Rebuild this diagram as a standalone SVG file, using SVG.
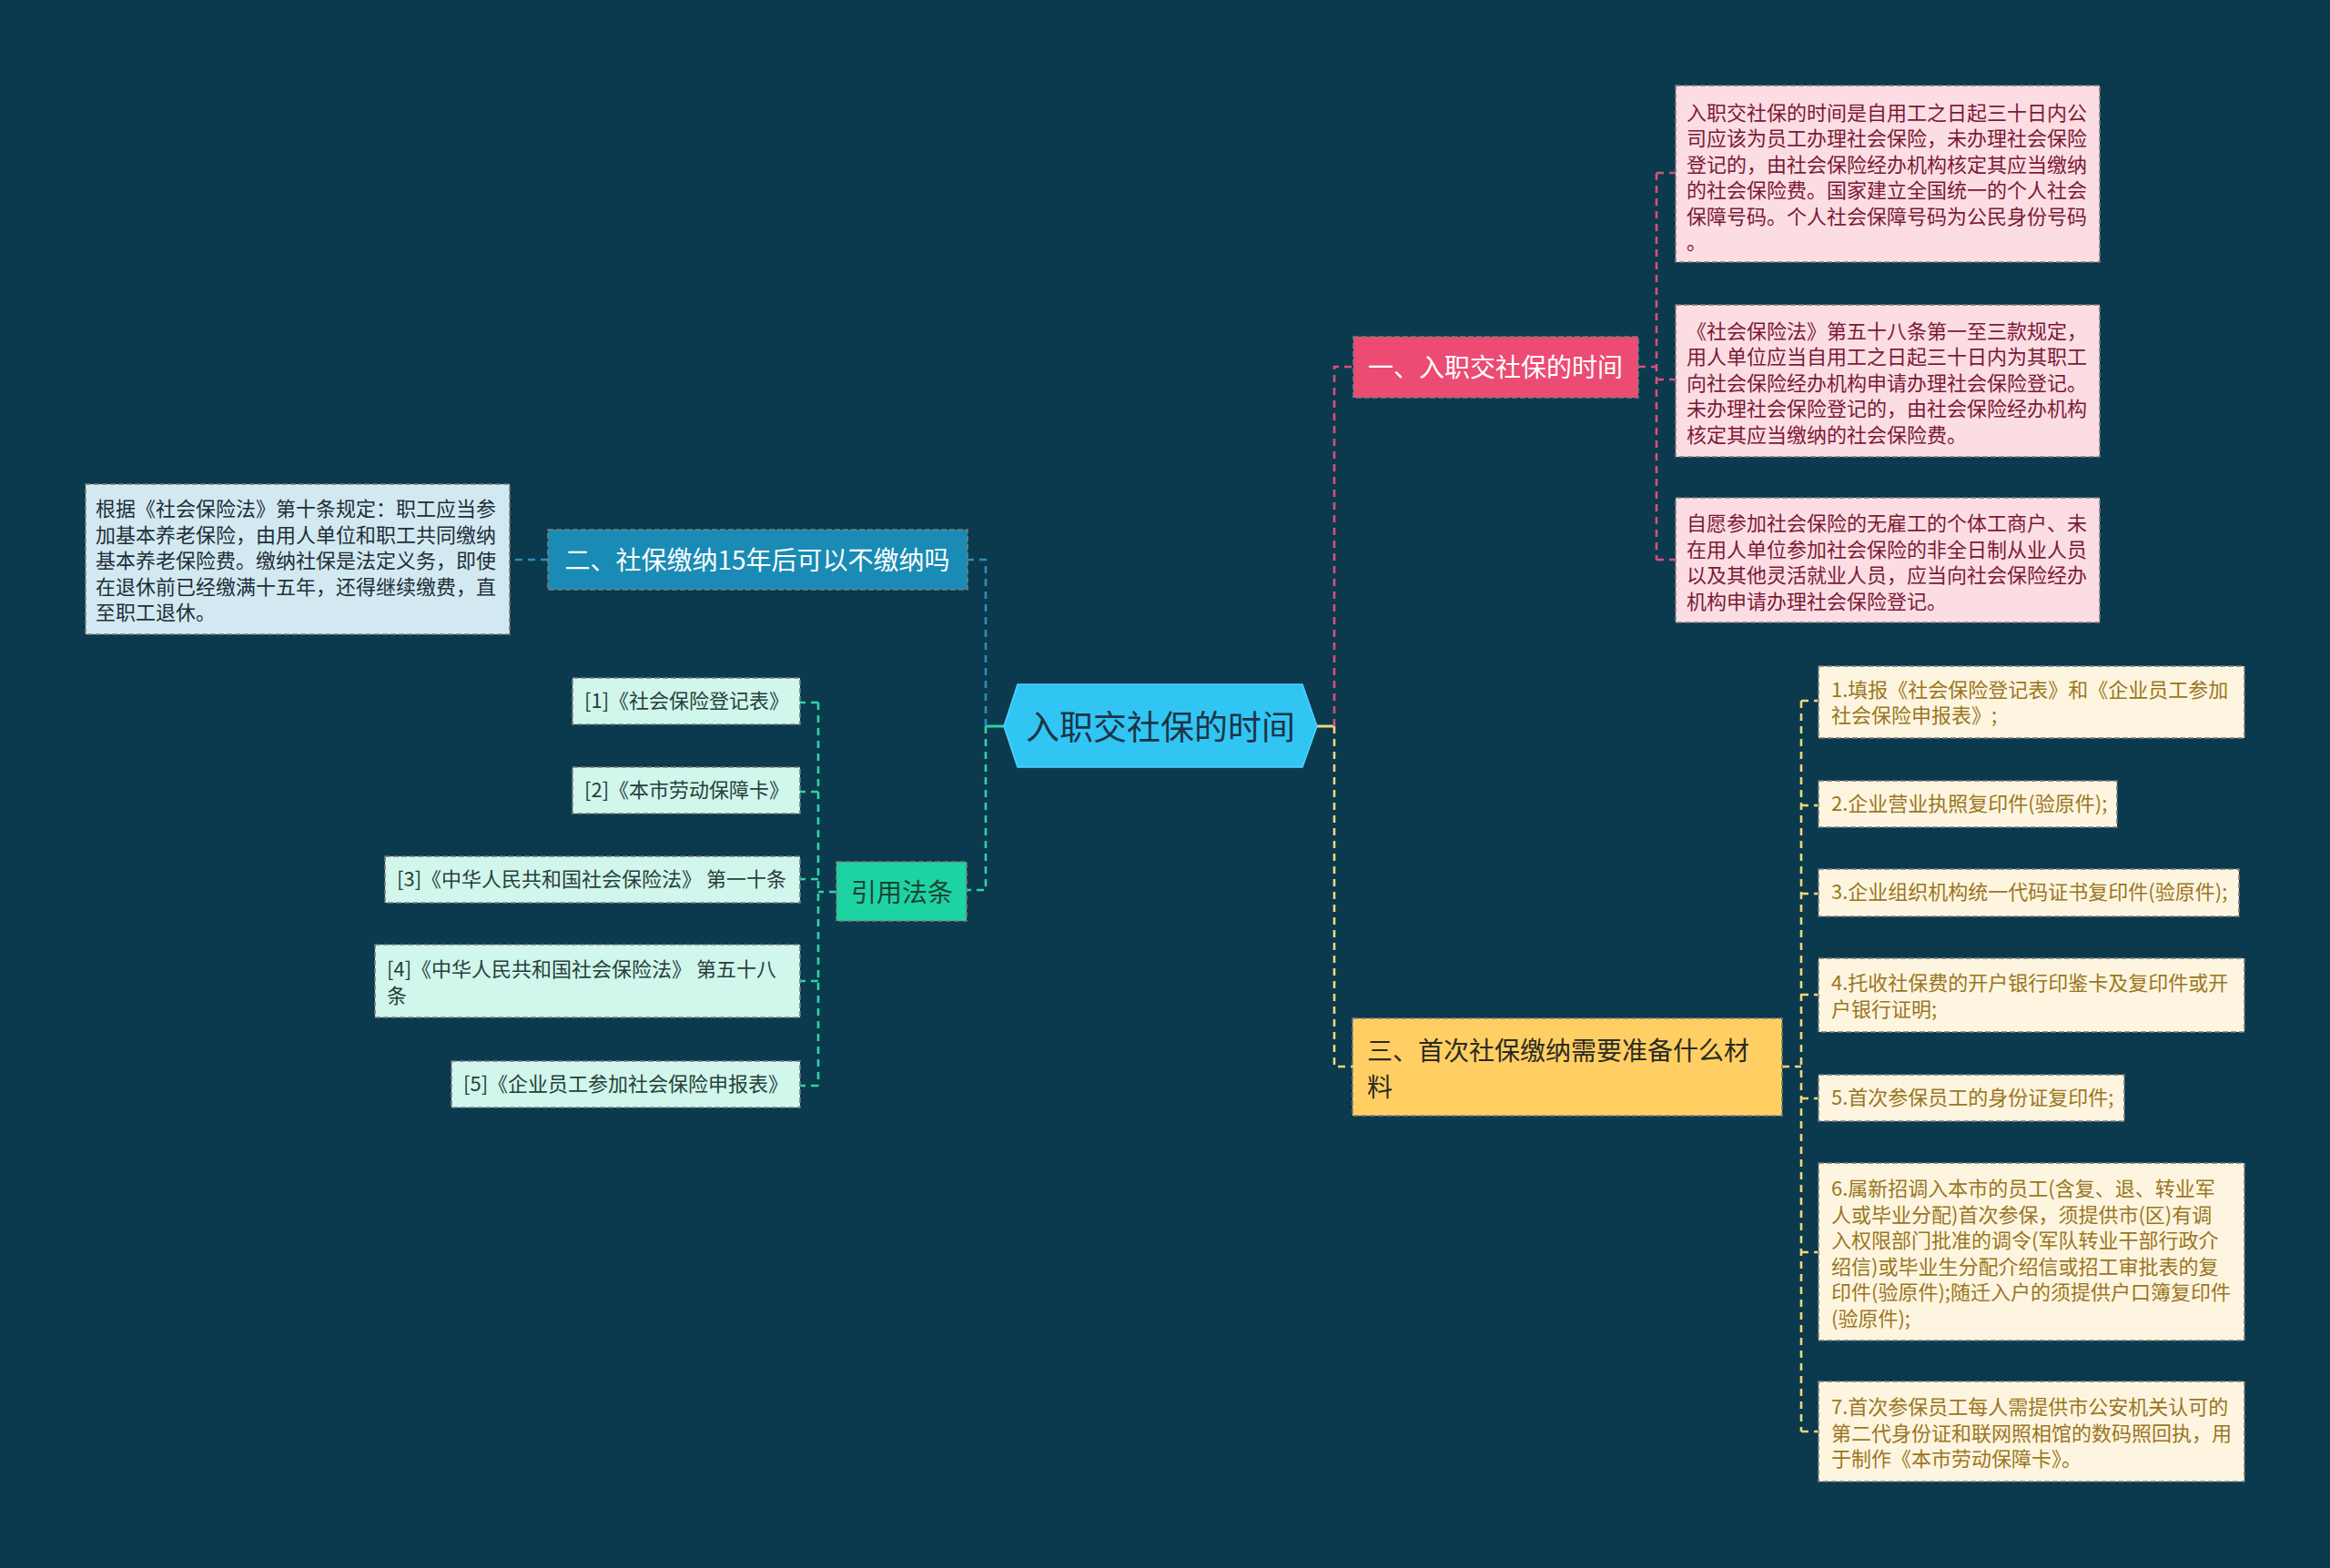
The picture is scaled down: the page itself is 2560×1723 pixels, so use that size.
<svg xmlns="http://www.w3.org/2000/svg" width="2560" height="1723" viewBox="0 0 2560 1723">
<style>
text{font-family:"Noto Sans CJK SC","Microsoft YaHei",sans-serif;}
.c{fill:none;stroke-width:2.6;stroke-dasharray:8 6;}
.s{fill:none;stroke-width:3;}
.pk{stroke:#d9507a;} .bl{stroke:#2a8fb8;} .gr{stroke:#2fd3a5;} .yl{stroke:#f4d777;}
.bd{stroke:#7c7c7c;stroke-width:1.6;stroke-dasharray:6 3;}
.t22{font-size:22px;dominant-baseline:central;}
.t28{font-size:28px;dominant-baseline:central;}
.lp{fill:#7b1a35;} .lb{fill:#1e2f3a;} .lg{fill:#27403a;} .ly{fill:#9b7523;}
</style>
<rect width="2560" height="1723" fill="#0b3a4e"/>
<g id="connectors">
  <path class="s yl" d="M1447 798H1466"/>
  <path class="s gr" d="M1103 798H1083"/>
  <path class="c pk" d="M1466 798V403H1487"/>
  <path class="c pk" d="M1800 403H1820M1820 190V615M1820 190H1841M1820 417H1841M1820 615H1841"/>
  <path class="c yl" d="M1466 798V1172H1486"/>
  <path class="c yl" d="M1958 1172H1979M1979 770V1573M1979 770H1998M1979 885H1998M1979 982H1998M1979 1093H1998M1979 1207H1998M1979 1376H1998M1979 1573H1998"/>
  <path class="c bl" d="M1083 798V615H1063M602 615H560"/>
  <path class="c gr" d="M1083 798V978H1062"/>
  <path class="c gr" d="M919 980H899M899 772V1193M899 772H879M899 870H879M899 966H879M899 1078H879M899 1193H879"/>
</g>
<g id="root">
  <polygon points="1103,798 1118,752 1431,752 1447,798 1431,843 1118,843" fill="#31c5f4" stroke="#4fd3ff" stroke-width="1.5"/>
  <text x="1275" y="797" font-size="37" dominant-baseline="central" text-anchor="middle" fill="#1c3445">入职交社保的时间</text>
</g>
<g id="n1">
  <rect x="1487" y="370" width="313" height="67" fill="#ec4b73" class="bd"/>
  <text x="1643" y="402" class="t28" text-anchor="middle" fill="#ffffff">一、入职交社保的时间</text>
</g>
<g id="n1a">
  <rect x="1841" y="94" width="466" height="194" fill="#fcdde4" class="bd"/>
  <text class="t22 lp"><tspan x="1853" y="121.5">入职交社保的时间是自用工之日起三十日内公</tspan><tspan x="1853" y="150">司应该为员工办理社会保险，未办理社会保险</tspan><tspan x="1853" y="178.5">登记的，由社会保险经办机构核定其应当缴纳</tspan><tspan x="1853" y="207">的社会保险费。国家建立全国统一的个人社会</tspan><tspan x="1853" y="235.5">保障号码。个人社会保障号码为公民身份号码</tspan><tspan x="1853" y="264">。</tspan></text>
</g>
<g id="n1b">
  <rect x="1841" y="335" width="466" height="167" fill="#fcdde4" class="bd"/>
  <text class="t22 lp"><tspan x="1853" y="361.5">《社会保险法》第五十八条第一至三款规定，</tspan><tspan x="1853" y="390">用人单位应当自用工之日起三十日内为其职工</tspan><tspan x="1853" y="418.5">向社会保险经办机构申请办理社会保险登记。</tspan><tspan x="1853" y="447">未办理社会保险登记的，由社会保险经办机构</tspan><tspan x="1853" y="475.5">核定其应当缴纳的社会保险费。</tspan></text>
</g>
<g id="n1c">
  <rect x="1841" y="547" width="466" height="137" fill="#fcdde4" class="bd"/>
  <text class="t22 lp"><tspan x="1853" y="573">自愿参加社会保险的无雇工的个体工商户、未</tspan><tspan x="1853" y="601.5">在用人单位参加社会保险的非全日制从业人员</tspan><tspan x="1853" y="630">以及其他灵活就业人员，应当向社会保险经办</tspan><tspan x="1853" y="658.5">机构申请办理社会保险登记。</tspan></text>
</g>
<g id="n2">
  <rect x="602" y="582" width="461" height="66" fill="#1a8bb5" class="bd"/>
  <text x="832" y="614" class="t28" text-anchor="middle" fill="#ffffff">二、社保缴纳15年后可以不缴纳吗</text>
</g>
<g id="n2a">
  <rect x="94" y="532" width="466" height="165" fill="#d3e9f1" class="bd"/>
  <text class="t22 lb"><tspan x="105" y="557">根据《社会保险法》第十条规定：职工应当参</tspan><tspan x="105" y="585.5">加基本养老保险，由用人单位和职工共同缴纳</tspan><tspan x="105" y="614">基本养老保险费。缴纳社保是法定义务，即使</tspan><tspan x="105" y="642.5">在退休前已经缴满十五年，还得继续缴费，直</tspan><tspan x="105" y="671">至职工退休。</tspan></text>
</g>
<g id="n3">
  <rect x="919" y="947" width="143" height="65" fill="#1ed3a2" class="bd"/>
  <text x="991" y="979" class="t28" text-anchor="middle" fill="#1d4236">引用法条</text>
</g>
<g id="r1">
  <rect x="629" y="745" width="250" height="51" fill="#d1f6ec" class="bd"/>
  <text x="642" y="768" class="t22 lg">[1]《社会保险登记表》</text>
</g>
<g id="r2">
  <rect x="629" y="843" width="250" height="51" fill="#d1f6ec" class="bd"/>
  <text x="642" y="866" class="t22 lg">[2]《本市劳动保障卡》</text>
</g>
<g id="r3">
  <rect x="423" y="941" width="456" height="51" fill="#d1f6ec" class="bd"/>
  <text x="436" y="964" class="t22 lg">[3]《中华人民共和国社会保险法》 第一十条</text>
</g>
<g id="r4">
  <rect x="412" y="1038" width="467" height="80" fill="#d1f6ec" class="bd"/>
  <text class="t22 lg"><tspan x="425" y="1063">[4]《中华人民共和国社会保险法》 第五十八</tspan><tspan x="425" y="1091.5">条</tspan></text>
</g>
<g id="r5">
  <rect x="496" y="1166" width="383" height="51" fill="#d1f6ec" class="bd"/>
  <text x="509" y="1189" class="t22 lg">[5]《企业员工参加社会保险申报表》</text>
</g>
<g id="n4">
  <rect x="1486" y="1119" width="472" height="107" fill="#ffcf63" class="bd"/>
  <text class="t28" fill="#2a2a22"><tspan x="1502" y="1153">三、首次社保缴纳需要准备什么材</tspan><tspan x="1502" y="1193">料</tspan></text>
</g>
<g id="y1">
  <rect x="1998" y="732" width="468" height="79" fill="#fdf5df" class="bd"/>
  <text class="t22 ly"><tspan x="2012" y="756">1.填报《社会保险登记表》和《企业员工参加</tspan><tspan x="2012" y="784">社会保险申报表》;</tspan></text>
</g>
<g id="y2">
  <rect x="1998" y="858" width="328" height="51" fill="#fdf5df" class="bd"/>
  <text x="2012" y="881" class="t22 ly">2.企业营业执照复印件(验原件);</text>
</g>
<g id="y3">
  <rect x="1998" y="955" width="462" height="52" fill="#fdf5df" class="bd"/>
  <text x="2012" y="978" class="t22 ly">3.企业组织机构统一代码证书复印件(验原件);</text>
</g>
<g id="y4">
  <rect x="1998" y="1053" width="468" height="81" fill="#fdf5df" class="bd"/>
  <text class="t22 ly"><tspan x="2012" y="1078">4.托收社保费的开户银行印鉴卡及复印件或开</tspan><tspan x="2012" y="1106.5">户银行证明;</tspan></text>
</g>
<g id="y5">
  <rect x="1998" y="1181" width="336" height="51" fill="#fdf5df" class="bd"/>
  <text x="2012" y="1204" class="t22 ly">5.首次参保员工的身份证复印件;</text>
</g>
<g id="y6">
  <rect x="1998" y="1278" width="468" height="195" fill="#fdf5df" class="bd"/>
  <text class="t22 ly"><tspan x="2012" y="1304">6.属新招调入本市的员工(含复、退、转业军</tspan><tspan x="2012" y="1332.5">人或毕业分配)首次参保，须提供市(区)有调</tspan><tspan x="2012" y="1361">入权限部门批准的调令(军队转业干部行政介</tspan><tspan x="2012" y="1389.5">绍信)或毕业生分配介绍信或招工审批表的复</tspan><tspan x="2012" y="1418">印件(验原件);随迁入户的须提供户口簿复印件</tspan><tspan x="2012" y="1446.5">(验原件);</tspan></text>
</g>
<g id="y7">
  <rect x="1998" y="1518" width="468" height="110" fill="#fdf5df" class="bd"/>
  <text class="t22 ly"><tspan x="2012" y="1544">7.首次参保员工每人需提供市公安机关认可的</tspan><tspan x="2012" y="1572.5">第二代身份证和联网照相馆的数码照回执，用</tspan><tspan x="2012" y="1601">于制作《本市劳动保障卡》。</tspan></text>
</g>
</svg>
